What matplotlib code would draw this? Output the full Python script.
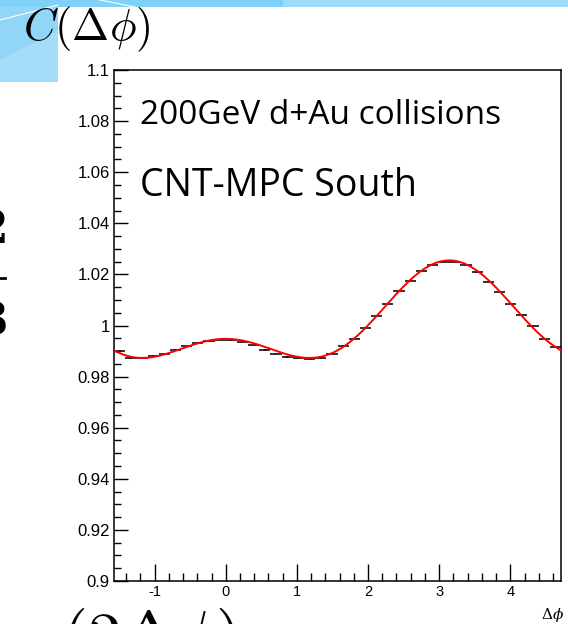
import numpy as np
import matplotlib.pyplot as plt
from matplotlib.patches import Polygon, Rectangle

# binning of the correlation histogram
phi_lo = -np.pi / 2
phi_hi = 3 * np.pi / 2
n_bins = 40

# C(dphi) per bin
c_vals = [0.9899, 0.9873, 0.9871, 0.9880, 0.9890, 0.9904, 0.9918, 0.9931, 0.9940, 0.9945,
          0.9944, 0.9937, 0.9922, 0.9905, 0.9890, 0.9877, 0.9871, 0.9868, 0.9873, 0.9890,
          0.9920, 0.9949, 0.9992, 1.0038, 1.0085, 1.0134, 1.0175, 1.0212, 1.0236, 1.0249,
          1.0250, 1.0236, 1.0210, 1.0172, 1.0130, 1.0086, 1.0041, 0.9998, 0.9949, 0.9914]
c_errs = [0.0003] * n_bins

# fourier fit: a0 + a1 cos(dphi) + a2 cos(2 dphi)
fit_a0 = 1.0002
fit_a1 = -0.01535
fit_a2 = 0.00993

y_ticks = [0.9, 0.92, 0.94, 0.96, 0.98, 1.0, 1.02, 1.04, 1.06, 1.08, 1.1]
y_labels = ['0.9', '0.92', '0.94', '0.96', '0.98', '1', '1.02', '1.04', '1.06', '1.08', '1.1']
x_ticks = [-1, 0, 1, 2, 3, 4]

W, H = 568, 624
fig = plt.figure(figsize=(W / 100, H / 100), dpi=100)

# slide decoration in the corner (pixel coords, y down)
deco = fig.add_axes([0, 0, 1, 1], zorder=-5)
deco.set_xlim(0, W)
deco.set_ylim(H, 0)
deco.axis('off')
deco.add_patch(Rectangle((0, 0), 58, 82, color='#a3ddf8', lw=0))
deco.add_patch(Polygon([(0, 0), (58, 0), (58, 30), (0, 60)], color='#92d6f7', lw=0))
deco.add_patch(Rectangle((0, 0), 283, 7, color='#7fd1f7', lw=0))
deco.add_patch(Rectangle((283, 0), W - 283, 7, color='#9bdcf9', lw=0))
deco.plot([0, 58], [20, 5], color='white', lw=0.8)
deco.plot([100, 135], [0, 7], color='white', lw=0.8)

fig.text(23 / W, 1 - 40 / H, r'$C(\Delta\phi)$', fontsize=32, math_fontfamily='cm', va='baseline')
fig.text(-28 / W, 1 - 658 / H, r'$\cos(2\Delta\phi)$', fontsize=48, math_fontfamily='cm', va='baseline')
fig.text(-24 / W, 1 - 230 / H, '2', fontsize=34, fontfamily='DejaVu Serif', va='center', fontweight='bold')
fig.text(-24 / W, 1 - 322 / H, '3', fontsize=34, fontfamily='DejaVu Serif', va='center', fontweight='bold')
deco.plot([0, 5], [278, 278], color='black', lw=2)

ax = fig.add_axes([114 / W, 1 - 581 / H, (561 - 114) / W, (581 - 70) / H])

edges = np.linspace(phi_lo, phi_hi, n_bins + 1)
centers = 0.5 * (edges[1:] + edges[:-1])
half_w = 0.5 * (edges[1] - edges[0])

ax.errorbar(centers, c_vals, xerr=half_w, yerr=c_errs, fmt='none', ecolor='#111111',
            elinewidth=1.2, capsize=0, zorder=2)

phi_fine = np.linspace(phi_lo, phi_hi, 500)
fit_curve = fit_a0 + fit_a1 * np.cos(phi_fine) + fit_a2 * np.cos(2 * phi_fine)
ax.plot(phi_fine, fit_curve, color='#ff0000', lw=1.4, zorder=3)

ax.set_xlim(phi_lo, phi_hi)
ax.set_ylim(0.9, 1.1)
ax.set_yticks(y_ticks)
ax.set_yticklabels(y_labels, fontfamily='Liberation Sans', fontsize=12)
ax.set_yticks(np.arange(0.9, 1.1001, 0.005), minor=True)
ax.set_xticks(x_ticks)
ax.set_xticklabels([str(t) for t in x_ticks], fontfamily='Liberation Sans', fontsize=10.5)
ax.set_xticks(np.arange(-1.4, 4.71, 0.2), minor=True)
ax.tick_params(axis='y', which='major', direction='in', length=10, width=1, pad=3)
ax.tick_params(axis='y', which='minor', direction='in', length=5, width=1)
ax.tick_params(axis='x', which='major', direction='in', length=12, width=1, pad=3)
ax.tick_params(axis='x', which='minor', direction='in', length=6, width=1)
for s in ax.spines.values():
    s.set_linewidth(1.1)

ax.text(0.058, 0.910, '200GeV d+Au collisions', transform=ax.transAxes, fontsize=24,
        fontfamily='Open Sans', va='center')
ax.text(0.058, 0.773, 'CNT-MPC South', transform=ax.transAxes, fontsize=27,
        fontfamily='Open Sans', va='center')

fig.text(541 / W, 1 - 619 / H, r'$\Delta\phi$', fontsize=11, math_fontfamily='dejavuserif',
         va='baseline')

fig.savefig('out.png', dpi=100)
